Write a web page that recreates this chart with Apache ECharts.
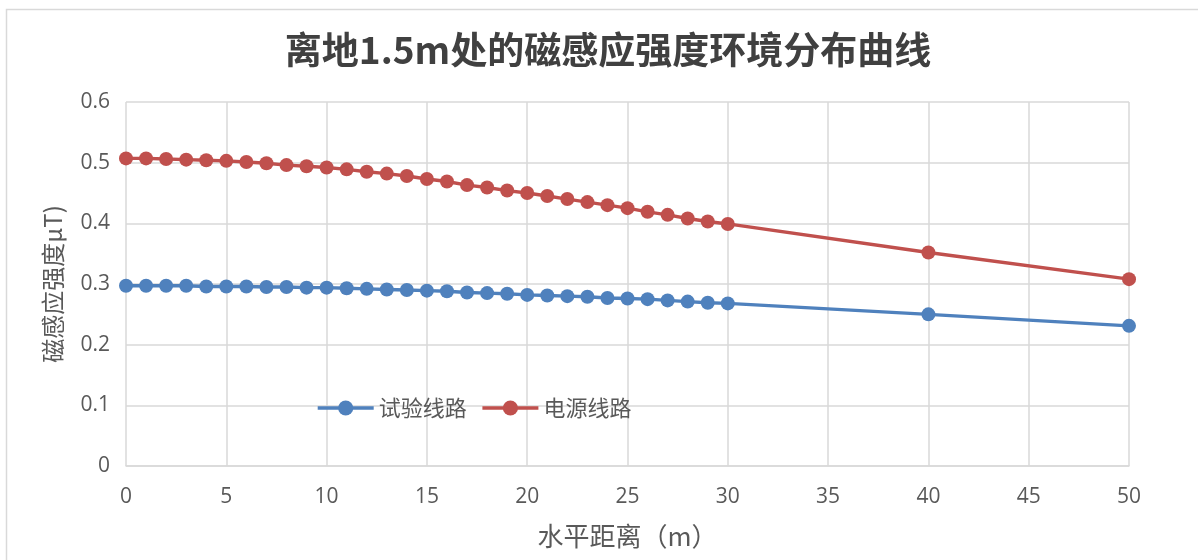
<!DOCTYPE html>
<html>
<head>
<meta charset="utf-8">
<title>离地1.5m处的磁感应强度环境分布曲线</title>
<script src="https://cdn.jsdelivr.net/npm/echarts@6/dist/echarts.min.js"></script>
<style>
  html, body { margin: 0; padding: 0; background: #ffffff; }
  #chart { width: 1198px; height: 560px; }
</style>
</head>
<body>
<div id="chart"></div>
<script>
// Horizontal distance from the line (m)
const distances = [0, 1, 2, 3, 4, 5, 6, 7, 8, 9, 10, 11, 12, 13, 14, 15, 16, 17, 18, 19,
  20, 21, 22, 23, 24, 25, 26, 27, 28, 29, 30, 40, 50];

// Magnetic induction at 1.5 m above ground (μT)
const testLine = [0.297, 0.297, 0.297, 0.297, 0.296, 0.296, 0.296, 0.295, 0.295, 0.294,
  0.294, 0.293, 0.292, 0.291, 0.290, 0.289, 0.288, 0.286, 0.285, 0.284,
  0.282, 0.281, 0.280, 0.279, 0.277, 0.276, 0.275, 0.273, 0.271, 0.269,
  0.268, 0.250, 0.231];
const powerLine = [0.507, 0.507, 0.506, 0.505, 0.504, 0.503, 0.501, 0.499, 0.496, 0.494,
  0.492, 0.489, 0.485, 0.482, 0.478, 0.473, 0.469, 0.463, 0.459, 0.454,
  0.450, 0.445, 0.440, 0.435, 0.430, 0.425, 0.419, 0.414, 0.408, 0.403,
  0.399, 0.352, 0.308];

const seriesNames = ['试验线路', '电源线路'];
const seriesColors = ['#4f81bd', '#c0504d'];

const fontFamily = '"Open Sans", "Noto Sans CJK SC", sans-serif';
const cjkFont = '"Noto Sans CJK SC", "Open Sans", sans-serif';

function pairs(values) {
  return distances.map((d, i) => [d, values[i]]);
}

const chart = echarts.init(document.getElementById('chart'));
chart.setOption({
  animation: false,
  backgroundColor: '#ffffff',
  textStyle: { fontFamily: fontFamily },
  graphic: [{
    type: 'rect',
    shape: { x: 6.5, y: 9.5, width: 1300, height: 700 },
    style: { fill: 'none', stroke: '#d9d9d9', lineWidth: 1.5 },
    silent: true,
    z: -10
  }],
  title: {
    text: '离地1.5m处的磁感应强度环境分布曲线',
    left: 603,
    textAlign: 'center',
    top: 26,
    textStyle: {
      fontFamily: cjkFont,
      fontSize: 37,
      fontWeight: 'bold',
      color: '#404040'
    }
  },
  legend: {
    left: 311,
    top: 392,
    itemWidth: 56,
    itemHeight: 19,
    itemGap: 14,
    lineStyle: { width: 3.4 },
    textStyle: { fontFamily: cjkFont, fontSize: 22, color: '#595959' },
    data: seriesNames
  },
  grid: { left: 126, right: 69, top: 102, bottom: 94 },
  xAxis: {
    type: 'value',
    min: 0,
    max: 50,
    interval: 5,
    name: '水平距离（m）',
    nameLocation: 'middle',
    nameGap: 57,
    nameTextStyle: { fontFamily: cjkFont, fontSize: 26, color: '#595959' },
    axisLine: { show: true, lineStyle: { color: '#d9d9d9', width: 1.5 } },
    axisTick: { show: false },
    axisLabel: { margin: 21, fontSize: 21, color: '#595959' },
    splitLine: { show: true, lineStyle: { color: '#d9d9d9', width: 1.5 } }
  },
  yAxis: {
    type: 'value',
    min: 0,
    max: 0.6,
    interval: 0.1,
    name: '磁感应强度μT)',
    nameLocation: 'middle',
    nameGap: 61,
    nameRotate: 90,
    nameTextStyle: { fontFamily: cjkFont, fontSize: 24, color: '#595959' },
    axisLine: { show: false },
    axisTick: { show: false },
    axisLabel: {
      margin: 16, fontSize: 21, color: '#595959',
      formatter: v => (v === 0 ? '0' : v.toFixed(1))
    },
    splitLine: { show: true, lineStyle: { color: '#d9d9d9', width: 1.5 } }
  },
  series: [
    {
      name: seriesNames[0],
      type: 'line',
      data: pairs(testLine),
      symbol: 'circle',
      symbolSize: 14,
      color: seriesColors[0],
      lineStyle: { width: 3.4, color: seriesColors[0] },
      itemStyle: { color: seriesColors[0] }
    },
    {
      name: seriesNames[1],
      type: 'line',
      data: pairs(powerLine),
      symbol: 'circle',
      symbolSize: 14,
      color: seriesColors[1],
      lineStyle: { width: 3.4, color: seriesColors[1] },
      itemStyle: { color: seriesColors[1] }
    }
  ]
});
</script>
</body>
</html>
